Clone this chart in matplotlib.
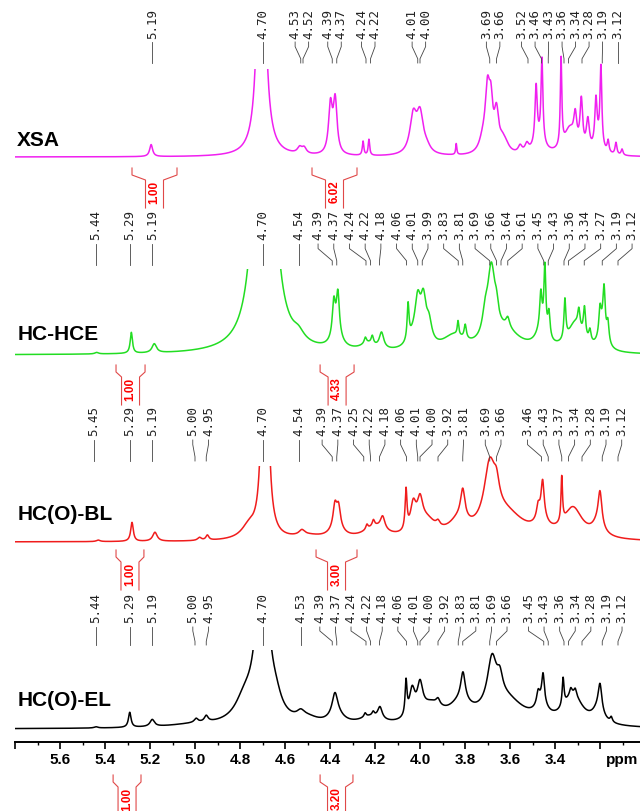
import numpy as np
import matplotlib
matplotlib.use("Agg")
import matplotlib.pyplot as plt
from matplotlib.patches import Polygon

# ---- axis calibration (ppm scale, 225 px per ppm) ----
PPM_LEFT = 5.8
PPM_RIGHT = 5.8 - 625 / 225.0
PX_PER_PPM = 225.0
X0 = 15

# ---- peak tables: centre (ppm), height (px above baseline), half width (ppm) ----
XSA_PPM = [5.195, 4.705, 4.535, 4.515, 4.398, 4.377, 4.253, 4.227, 4.03, 4.0, 3.97, 3.839,
           3.72, 3.70, 3.685, 3.66, 3.635, 3.62, 3.555, 3.525, 3.484, 3.458, 3.47, 3.373,
           3.335, 3.31, 3.283, 3.254, 3.218, 3.196, 3.21, 3.164, 3.129, 3.102]
XSA_HGT = [12, 400, 6, 6, 48, 53, 14, 16, 37, 38, 5, 11,
           12, 58, 40, 38, 8, 8, 7, 8, 58, 84, 12, 88,
           25, 28, 48, 30, 45, 80, 10, 12, 12, 6]
XSA_WID = [0.008, 0.015, 0.012, 0.012, 0.01, 0.01, 0.004, 0.004, 0.018, 0.018, 0.02, 0.003,
           0.02, 0.012, 0.01, 0.012, 0.015, 0.02, 0.01, 0.01, 0.006, 0.005, 0.03, 0.004,
           0.03, 0.008, 0.007, 0.008, 0.006, 0.005, 0.02, 0.005, 0.005, 0.005]

HCE_PPM = [5.437, 5.283, 5.181, 4.693, 4.54, 4.383, 4.365, 4.37, 4.243, 4.212, 4.23, 4.171,
           4.053, 4.03, 4.01, 3.985, 3.96, 3.85, 3.831, 3.799, 3.71, 3.683, 3.66, 3.61, 3.62,
           3.463, 3.445, 3.427, 3.46, 3.356, 3.31, 3.294, 3.269, 3.245, 3.20, 3.182, 3.165, 3.19]
HCE_HGT = [1.5, 21, 9, 1240, 8, 35, 42, 12, 6, 8, 7, 16,
           36, 10, 40, 42, 20, 15, 14, 14, 20, 70, 15, 10, 20,
           35, 65, 25, 18, 40, 28, 18, 30, 12, 25, 45, 20, 20]
HCE_WID = [0.01, 0.006, 0.012, 0.02, 0.03, 0.008, 0.008, 0.03, 0.006, 0.006, 0.04, 0.012,
           0.005, 0.03, 0.015, 0.015, 0.015, 0.06, 0.004, 0.006, 0.015, 0.02, 0.01, 0.01, 0.08,
           0.006, 0.005, 0.006, 0.03, 0.005, 0.04, 0.006, 0.006, 0.006, 0.006, 0.006, 0.006, 0.02]

BL_PPM = [5.43, 5.28, 5.178, 4.98, 4.945, 4.689, 4.76, 4.525, 4.5, 4.378, 4.362, 4.37,
          4.2, 4.236, 4.207, 4.166, 4.062, 4.03, 4.0, 3.97, 3.92, 3.81, 3.83,
          3.69, 3.66, 3.62, 3.475, 3.455, 3.46, 3.37, 3.32, 3.2, 3.21]
BL_HGT = [1.5, 19, 9, 3, 5, 500, 12, 5, 4, 22, 20, 10,
          12, 5, 6, 13, 40, 26, 26, 16, 5, 30, 14,
          60, 20, 25, 12, 35, 14, 45, 30, 34, 12]
BL_WID = [0.01, 0.007, 0.012, 0.01, 0.008, 0.01, 0.04, 0.015, 0.08, 0.01, 0.01, 0.035,
          0.06, 0.006, 0.006, 0.012, 0.005, 0.015, 0.015, 0.05, 0.01, 0.012, 0.05,
          0.03, 0.015, 0.1, 0.008, 0.008, 0.03, 0.004, 0.05, 0.01, 0.03]

EL_PPM = [5.44, 5.29, 5.19, 5.0, 4.995, 4.95, 4.70, 4.78, 4.64, 4.53, 4.5, 4.378, 4.37,
          4.244, 4.208, 4.22, 4.178, 4.062, 4.035, 4.0, 3.95, 3.92, 3.809, 3.82,
          3.68, 3.645, 3.62, 3.475, 3.453, 3.46, 3.364, 3.32, 3.33, 3.31, 3.2, 3.21, 3.15]
EL_HGT = [1.2, 15, 7, 3, 4, 6, 188, 20, 12, 6, 6, 22, 9,
          4, 4, 8, 12, 34, 27, 29, 18, 6, 28, 18,
          48, 18, 26, 12, 28, 15, 28, 30, 6, 6, 28, 12, 5]
EL_WID = [0.01, 0.007, 0.012, 0.15, 0.01, 0.01, 0.03, 0.05, 0.03, 0.02, 0.06, 0.015, 0.04,
          0.006, 0.006, 0.06, 0.012, 0.005, 0.015, 0.015, 0.06, 0.01, 0.012, 0.06,
          0.025, 0.015, 0.1, 0.008, 0.007, 0.03, 0.005, 0.05, 0.006, 0.006, 0.01, 0.03, 0.006]

# ---- picked peak labels ----
XSA_LABELS = [5.19, 4.70, 4.53, 4.52, 4.39, 4.37, 4.24, 4.22, 4.01, 4.00, 3.69, 3.66,
              3.52, 3.46, 3.43, 3.36, 3.34, 3.28, 3.19, 3.12]
HCE_LABELS = [5.44, 5.29, 5.19, 4.70, 4.54, 4.39, 4.37, 4.24, 4.22, 4.18, 4.06, 4.01, 3.99,
              3.83, 3.81, 3.69, 3.66, 3.64, 3.61, 3.45, 3.43, 3.36, 3.34, 3.27, 3.19, 3.12]
BL_LABELS = [5.45, 5.29, 5.19, 5.00, 4.95, 4.70, 4.54, 4.39, 4.37, 4.25, 4.22, 4.18, 4.06,
             4.01, 4.00, 3.92, 3.81, 3.69, 3.66, 3.46, 3.43, 3.37, 3.34, 3.28, 3.19, 3.12]
EL_LABELS = [5.44, 5.29, 5.19, 5.00, 4.95, 4.70, 4.53, 4.39, 4.37, 4.24, 4.22, 4.18, 4.06,
             4.01, 4.00, 3.92, 3.83, 3.81, 3.69, 3.66, 3.45, 3.43, 3.36, 3.34, 3.28, 3.19, 3.12]

# ---- integrals: from, to (ppm), value ----
XSA_INT_FROM = [5.28, 4.48]
XSA_INT_TO = [5.08, 4.28]
XSA_INT_VAL = ["1.00", "6.02"]
HCE_INT_FROM = [5.351, 4.444]
HCE_INT_TO = [5.222, 4.293]
HCE_INT_VAL = ["1.00", "4.33"]
BL_INT_FROM = [5.351, 4.462]
BL_INT_TO = [5.227, 4.28]
BL_INT_VAL = ["1.00", "3.00"]
EL_INT_FROM = [5.364, 4.444]
EL_INT_TO = [5.24, 4.298]
EL_INT_VAL = ["1.00", "3.20"]

NAMES = ["XSA", "HC-HCE", "HC(O)-BL", "HC(O)-EL"]
COLORS = ["#f020f0", "#22dd22", "#f01c1c", "#000000"]

# layout of each trace (pixel rows from the top)
LAYOUT = [
    dict(base=157, clip=69, lab=39, l0=42, l1=63, name=140, itop=168, gap=13.5),
    dict(base=355, clip=269, lab=240, l0=244, l1=265, name=335, itop=365, gap=15.7),
    dict(base=542, clip=466, lab=436, l0=440, l1=461, name=514, itop=550, gap=15.7),
    dict(base=729, clip=650, lab=623, l0=627, l1=645, name=700, itop=775, gap=15.6),
]
WATER_WINDOW = (4.85, 4.55)   # the solvent peak is cut at the clip row

TABLES = [(XSA_PPM, XSA_HGT, XSA_WID), (HCE_PPM, HCE_HGT, HCE_WID),
          (BL_PPM, BL_HGT, BL_WID), (EL_PPM, EL_HGT, EL_WID)]
LABELS = [XSA_LABELS, HCE_LABELS, BL_LABELS, EL_LABELS]
INTEGRALS = [(XSA_INT_FROM, XSA_INT_TO, XSA_INT_VAL), (HCE_INT_FROM, HCE_INT_TO, HCE_INT_VAL),
             (BL_INT_FROM, BL_INT_TO, BL_INT_VAL), (EL_INT_FROM, EL_INT_TO, EL_INT_VAL)]


def to_px(ppm):
    return X0 + (PPM_LEFT - np.asarray(ppm, float)) * PX_PER_PPM


def to_ppm(px):
    return PPM_LEFT - (np.asarray(px, float) - X0) / PX_PER_PPM


def lineshape(x, centres, heights, widths):
    y = np.zeros_like(x)
    for c, h, w in zip(centres, heights, widths):
        y += h / (1.0 + ((x - c) / w) ** 2)
    return y


def spread(px, gap, right_edge):
    order = np.argsort(px)
    xs = np.asarray(px, float)[order]

    def place(g):
        c = xs[g].mean()
        return c + (np.arange(len(g)) - (len(g) - 1) / 2.0) * gap

    groups = [[i] for i in range(len(xs))]
    merged = True
    while merged:
        merged = False
        out = [groups[0]]
        for g in groups[1:]:
            if place(out[-1])[-1] + gap > place(g)[0] + 1e-6:
                out[-1] = out[-1] + g
                merged = True
            else:
                out.append(g)
        groups = out
    pos = np.empty(len(xs))
    for g in groups:
        p = place(g)
        if p[-1] > right_edge:
            p -= p[-1] - right_edge
        pos[g] = p
    res = np.empty_like(pos)
    res[order] = pos
    return res


fig = plt.figure(figsize=(6.4, 8.11), dpi=100)
ax = fig.add_axes([X0 / 640, (811 - 742) / 811, 625 / 640, 742 / 811])
ax.set_xlim(PPM_LEFT, PPM_RIGHT)
ax.set_ylim(742, 0)
for s in ["top", "left", "right"]:
    ax.spines[s].set_visible(False)
ax.spines["bottom"].set_linewidth(1.4)
ax.set_yticks([])

major = np.round(np.arange(5.8, 3.1, -0.2), 1)
ax.set_xticks(major)
ax.set_xticklabels(["" if v in (5.8, 3.2) else f"{v:.1f}" for v in major],
                   fontsize=11, fontweight="bold", family="Liberation Sans")
ax.set_xticks(np.round(np.arange(5.7, 3.0, -0.2), 1), minor=True)
ax.tick_params(axis="x", which="major", length=5, width=1.2, pad=3)
ax.tick_params(axis="x", which="minor", length=2.5, width=1.0)
ax.text(3.1, 760, "ppm", ha="center", va="center", fontsize=11, fontweight="bold",
        family="Liberation Sans", clip_on=False)

x = np.linspace(PPM_LEFT, PPM_RIGHT, 4000)

for k in range(4):
    lay = LAYOUT[k]
    cen, hgt, wid = TABLES[k]
    y = lay["base"] - lineshape(x, cen, hgt, wid)
    line, = ax.plot(x, y, color=COLORS[k], lw=1.1)
    top = lay["base"] - 140
    wl, wr = WATER_WINDOW
    clip = Polygon([(PPM_LEFT, top), (wl, top), (wl, lay["clip"]), (wr, lay["clip"]),
                    (wr, top), (PPM_RIGHT, top), (PPM_RIGHT, lay["base"] + 30),
                    (PPM_LEFT, lay["base"] + 30)], closed=True, transform=ax.transData)
    line.set_clip_path(clip)

    ax.text(5.79, lay["name"], NAMES[k], fontsize=15, fontweight="bold",
            family="Liberation Sans", ha="left", va="center")

    # peak labels with leader lines
    peaks_px = to_px(LABELS[k])
    lab_px = spread(peaks_px, lay["gap"], 636)
    L = lay["l1"] - lay["l0"]
    for v, pp, lp in zip(LABELS[k], peaks_px, lab_px):
        xl, xp = to_ppm(lp), to_ppm(pp)
        ax.plot([xl, xl, xp, xp],
                [lay["l0"], lay["l0"] + 0.22 * L, lay["l0"] + 0.8 * L, lay["l1"]],
                color="#444444", lw=0.6, clip_on=False)
        ax.text(xl, lay["lab"], f"{v:.2f}", rotation=90, ha="center", va="bottom",
                fontsize=9, family="DejaVu Sans Mono", color="#222222", clip_on=False)

    # integrals
    fr, to, vals = INTEGRALS[k]
    t = lay["itop"]
    for a, b, val in zip(fr, to, vals):
        pa, pb = to_px(a), to_px(b)
        pc = 0.5 * (pa + pb)
        na, nb = pc - 9, pc + 9
        for outer, inner in ((pa, na), (pb, nb)):
            ax.plot(to_ppm([outer, outer, inner, inner]), [t, t + 7, t + 12, t + 40],
                    color="#e04848", lw=0.8, clip_on=False)
        ax.text(to_ppm(pc), t + 24, val, rotation=90, ha="center", va="center",
                fontsize=8.5, fontweight="bold", family="Liberation Sans",
                color="#ff0000", clip_on=False)

fig.savefig("out.png", dpi=100)
